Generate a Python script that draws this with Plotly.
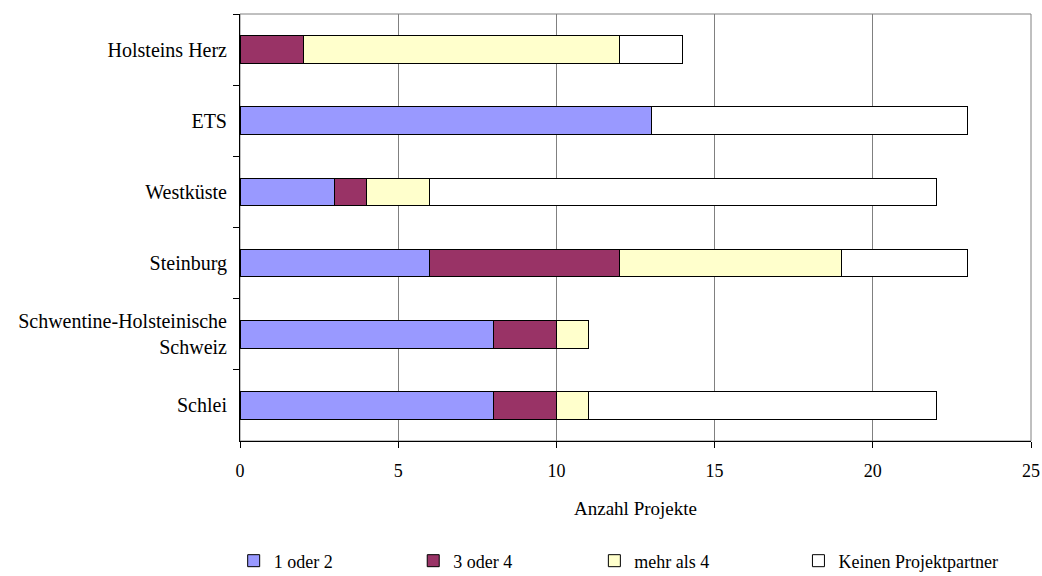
import plotly.graph_objects as go

# Regions, listed top to bottom
regions = [
    "Holsteins Herz",
    "ETS",
    "Westküste",
    "Steinburg",
    "Schwentine-Holsteinische<br>Schweiz",
    "Schlei",
]

# Number of projects per partner-count class
eins_oder_zwei = [0, 13, 3, 6, 8, 8]
drei_oder_vier = [2, 0, 1, 6, 2, 2]
mehr_als_vier = [10, 0, 2, 7, 1, 1]
keine_partner = [2, 10, 16, 4, 0, 11]

series = [
    ("1 oder 2", eins_oder_zwei, "#9999FF", "legend", -0.008),
    ("3 oder 4", drei_oder_vier, "#993366", "legend2", 0.219),
    ("mehr als 4", mehr_als_vier, "#FFFFCC", "legend3", 0.448),
    ("Keinen Projektpartner", keine_partner, "#FFFFFF", "legend4", 0.706),
]

FONT = "Liberation Serif"

fig = go.Figure()
for name, vals, color, leg, _ in series:
    fig.add_trace(go.Bar(
        y=regions, x=vals, name=name, orientation="h",
        marker=dict(color=color, line=dict(color="black", width=1)),
        legend=leg,
    ))

legend_y = -0.281
legends = {}
for name, vals, color, leg, lx in series:
    legends[leg] = dict(
        x=lx, y=legend_y, xanchor="left", yanchor="middle",
        orientation="h", bgcolor="rgba(0,0,0,0)",
        font=dict(family=FONT, size=18, color="black"),
    )

fig.update_layout(
    width=1042, height=576,
    margin=dict(l=240, r=11, t=14, b=135, autoexpand=False),
    paper_bgcolor="white", plot_bgcolor="white",
    barmode="stack", bargap=0.61,
    font=dict(family=FONT, size=19, color="black"),
    showlegend=True,
    **legends,
)

fig.update_xaxes(
    range=[0, 25], dtick=5, tick0=0,
    showgrid=True, gridcolor="#808080", gridwidth=1,
    zeroline=False, automargin=False,
    showline=True, linecolor="black", linewidth=1,
    ticks="outside", ticklen=6, tickcolor="black",
    ticklabelstandoff=7,
    tickfont=dict(family=FONT, size=18),
    title=dict(text="Anzahl Projekte", font=dict(family=FONT, size=19), standoff=22),
)
fig.update_yaxes(
    autorange="reversed", automargin=False,
    showgrid=False, zeroline=False,
    showline=True, linecolor="black", linewidth=1,
    ticks="outside", ticklen=6, tickcolor="black", tickson="boundaries",
    ticklabelstandoff=8,
    tickfont=dict(family=FONT, size=20),
)

# Grey frame on the top and right of the plot area
fig.add_shape(type="rect", xref="paper", yref="paper", x0=0, x1=1, y0=0, y1=1,
              line=dict(color="#808080", width=1), layer="below")

fig.write_html("out.html")
